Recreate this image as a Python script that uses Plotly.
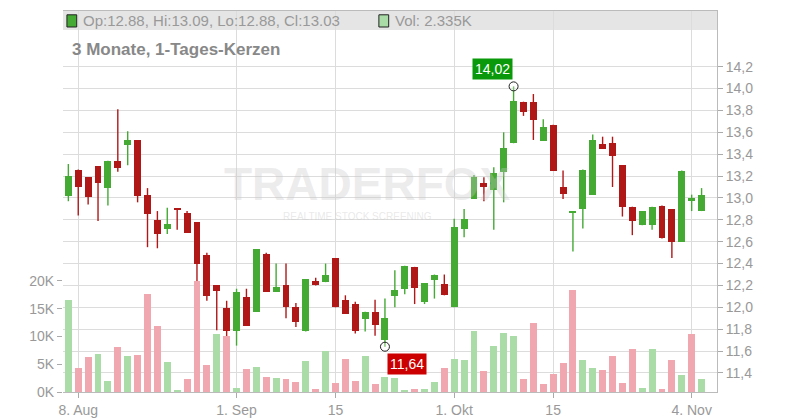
import plotly.graph_objects as go

# daily candles, 8 Aug .. 5 Nov (index = trading day)
opens = [13.02, 13.26, 13.19, 13.29, 13.09, 13.34, 13.48, 13.53, 13.03, 12.80,
         12.72, 12.90, 12.86, 12.78, 12.48, 12.20, 11.99, 11.78, 12.09, 11.96,
         12.49, 12.14, 12.20, 12.00, 11.78, 12.24, 12.23, 12.45, 12.07, 12.03,
         11.89, 11.96, 11.70, 12.10, 12.17, 12.37, 12.05, 12.25, 12.21, 12.00,
         12.72, 12.99, 13.14, 13.07, 13.24, 13.50, 13.88, 13.88, 13.52, 13.67,
         13.10, 12.87, 12.90, 13.03, 13.49, 13.50, 13.30, 12.92, 12.75, 12.75,
         12.93, 12.90, 12.60, 12.97, 12.88]
highs = [13.31, 13.26, 13.19, 13.29, 13.34, 13.81, 13.61, 13.53, 13.09, 12.88,
         12.91, 12.90, 12.88, 12.78, 12.50, 12.20, 12.06, 12.17, 12.17, 12.53,
         12.50, 12.40, 12.40, 12.04, 12.26, 12.27, 12.40, 12.45, 12.11, 12.05,
         11.96, 12.07, 12.08, 12.34, 12.38, 12.37, 12.22, 12.30, 12.30, 12.81,
         12.90, 13.21, 13.19, 13.28, 13.60, 14.02, 13.88, 13.95, 13.72, 13.67,
         13.25, 12.88, 13.26, 13.58, 13.56, 13.56, 13.30, 12.92, 12.88, 12.92,
         12.93, 12.90, 13.25, 13.03, 13.09]
lows = [12.97, 12.84, 12.94, 12.79, 12.93, 13.24, 13.30, 12.96, 12.55, 12.54,
        12.67, 12.71, 12.68, 12.10, 12.06, 11.79, 11.71, 11.65, 11.83, 11.96,
        12.14, 12.14, 11.90, 11.82, 11.78, 12.20, 12.23, 12.00, 11.94, 11.76,
        11.78, 11.74, 11.64, 12.00, 12.12, 12.03, 12.03, 12.08, 12.11, 12.00,
        12.64, 12.99, 12.97, 12.71, 12.96, 13.50, 13.75, 13.53, 13.52, 13.25,
        12.99, 12.51, 12.72, 13.03, 13.45, 13.10, 12.83, 12.66, 12.75, 12.71,
        12.63, 12.45, 12.60, 12.88, 12.88]
closes = [13.20, 13.10, 13.01, 13.14, 13.34, 13.27, 13.53, 13.02, 12.85, 12.67,
          12.76, 12.89, 12.68, 12.40, 12.10, 12.15, 11.78, 12.14, 11.83, 12.53,
          12.14, 12.19, 12.00, 11.87, 12.26, 12.20, 12.30, 12.00, 11.94, 11.78,
          11.96, 11.84, 11.90, 12.16, 12.38, 12.18, 12.22, 12.30, 12.11, 12.73,
          12.81, 13.19, 13.10, 13.23, 13.46, 13.89, 13.79, 13.71, 13.65, 13.25,
          13.04, 12.88, 13.26, 13.53, 13.45, 13.38, 12.92, 12.79, 12.88, 12.92,
          12.63, 12.60, 13.25, 13.00, 13.03]
volume_k = [16.5, 4.3, 6.3, 6.8, 2.0, 8.1, 6.5, 6.7, 17.7, 11.8,
            5.4, 0.4, 2.4, 19.9, 4.9, 10.4, 10.1, 0.8, 4.2, 4.5,
            2.7, 2.6, 2.4, 1.8, 5.6, 0.6, 7.4, 1.7, 6.0, 2.0,
            6.5, 1.5, 2.7, 2.6, 0.2, 0.6, 0.6, 1.8, 4.3, 6.0,
            5.8, 11.0, 3.7, 8.3, 10.7, 10.1, 2.3, 12.4, 1.4, 3.3,
            5.3, 18.3, 5.7, 4.4, 4.0, 6.5, 1.7, 7.8, 0.7, 7.8,
            0.5, 5.8, 3.0, 10.5, 2.4]
volume_up = [1, 0, 0, 1, 1, 0, 1, 0, 0, 0,
             1, 1, 0, 0, 0, 1, 0, 1, 0, 1,
             0, 1, 0, 0, 1, 0, 1, 0, 0, 0,
             1, 0, 1, 1, 1, 0, 1, 1, 0, 1,
             1, 1, 0, 1, 1, 1, 0, 0, 0, 0,
             0, 0, 1, 1, 0, 0, 0, 0, 1, 1,
             0, 0, 1, 0, 1]

date_tick_idx = [1, 17, 27, 39, 49, 63]
date_tick_text = ['8. Aug', '1. Sep', '15', '1. Okt', '15', '4. Nov']
price_ticks = [11.4, 11.6, 11.8, 12.0, 12.2, 12.4, 12.6, 12.8, 13.0, 13.2,
               13.4, 13.6, 13.8, 14.0, 14.2]
vol_ticks = [0, 5, 10, 15, 20]

GREEN = '#44aa33'
RED = '#b01818'
GRID = '#dcdcdc'
TXT = '#999999'
FONT = 'Liberation Sans'

idx = list(range(len(opens)))
up = [c >= o for o, c in zip(opens, closes)]
fig = go.Figure()

fig.add_trace(go.Bar(
    x=idx, y=volume_k, yaxis='y2', width=0.7,
    marker=dict(color=['#a9dca6' if u else '#f0a7b0' for u in volume_up], line_width=0),
    hoverinfo='skip', showlegend=False,
))

# wicks, one trace per colour
for colour, flag in ((GREEN, True), (RED, False)):
    wx, wy = [], []
    for i in idx:
        if up[i] == flag:
            wx += [i, i, None]
            wy += [lows[i], highs[i], None]
    fig.add_trace(go.Scatter(x=wx, y=wy, mode='lines', line=dict(color=colour, width=1.4),
                             hoverinfo='skip', showlegend=False))

# bodies
fig.add_trace(go.Bar(
    x=idx, base=[min(o, c) for o, c in zip(opens, closes)],
    y=[max(abs(c - o), 0.012) for o, c in zip(opens, closes)],
    width=0.7, marker=dict(color=[GREEN if u else RED for u in up], line_width=0),
    showlegend=False, hoverinfo='skip',
))

# extremes
hi_i = highs.index(max(highs))
lo_i = lows.index(min(lows))
fig.add_trace(go.Scatter(
    x=[hi_i, lo_i], y=[highs[hi_i], lows[lo_i]], mode='markers',
    marker=dict(size=9, color='rgba(255,255,255,0.3)', line=dict(color='#222', width=1)),
    showlegend=False, hoverinfo='skip',
))
fig.add_annotation(x=hi_i, y=highs[hi_i], text=f'{highs[hi_i]:.2f}'.replace('.', ','),
                   showarrow=False, xanchor='right', yanchor='bottom', xshift=-1, yshift=6,
                   bgcolor='#0a990a', font=dict(color='white', size=14, family=FONT),
                   borderpad=2)
fig.add_annotation(x=lo_i, y=lows[lo_i], text=f'{lows[lo_i]:.2f}'.replace('.', ','),
                   showarrow=False, xanchor='left', yanchor='top', xshift=2, yshift=-6,
                   bgcolor='#cc0000', font=dict(color='white', size=14, family=FONT),
                   borderpad=2)

# header bar and texts
fig.add_shape(type='rect', xref='paper', yref='paper', x0=0, x1=1, y0=0.950, y1=1,
              fillcolor='rgba(220,220,220,0.75)', line_width=0, layer='below')
fig.add_shape(type='rect', xref='paper', yref='paper', x0=0.006, x1=0.021, y0=0.958, y1=0.99,
              fillcolor=GREEN, line=dict(color='#222', width=1))
fig.add_shape(type='rect', xref='paper', yref='paper', x0=0.483, x1=0.498, y0=0.958, y1=0.99,
              fillcolor='#a9dca6', line=dict(color='#222', width=1))
fig.add_annotation(xref='paper', yref='paper', x=0.027, y=0.975, xanchor='left', yanchor='middle',
                   text='Op:12.88, Hi:13.09, Lo:12.88, Cl:13.03', showarrow=False,
                   font=dict(family='Liberation Sans Narrow, Liberation Sans', size=15, color='#999'))
fig.add_annotation(xref='paper', yref='paper', x=0.504, y=0.975, xanchor='left', yanchor='middle',
                   text='Vol: 2.335K', showarrow=False,
                   font=dict(family='Liberation Sans Narrow, Liberation Sans', size=15, color='#999'))
fig.add_annotation(xref='paper', yref='paper', x=0.011, y=0.9, xanchor='left', yanchor='middle',
                   text='<b>3 Monate, 1-Tages-Kerzen</b>', showarrow=False,
                   font=dict(family=FONT, size=17, color='#888'))
# watermark
fig.add_annotation(xref='paper', yref='paper', x=0.465, y=0.545, text='<b>TRADERFOX</b>', showarrow=False,
                   font=dict(family=FONT, size=46, color='rgba(200,200,200,0.35)'))
fig.add_annotation(xref='paper', yref='paper', x=0.45, y=0.46, text='REALTIME STOCK SCREENING',
                   showarrow=False, font=dict(family=FONT, size=10, color='rgba(200,200,200,0.4)'))

# the page adds an 8px body margin, so the figure is 8px smaller each way
fig.update_layout(
    width=792, height=412,
    margin=dict(l=55, r=83, t=3, b=28, autoexpand=False),
    paper_bgcolor='white', plot_bgcolor='white',
    bargap=0, barmode='overlay',
    xaxis=dict(range=[-0.54, 65.56], tickvals=date_tick_idx, ticktext=date_tick_text,
               showgrid=True, gridcolor=GRID, automargin=False,
               ticks='outside', ticklen=5, tickcolor='#aaa',
               showline=True, linecolor='#bbb', mirror=True,
               tickfont=dict(family=FONT, size=14, color=TXT), zeroline=False),
    yaxis=dict(side='right', range=[11.226, 14.709], tickvals=price_ticks,
               ticktext=[f'{p:.1f}'.replace('.', ',') for p in price_ticks],
               showgrid=True, gridcolor=GRID, ticks='outside', ticklen=5, tickcolor='#aaa',
               showline=True, linecolor='#bbb', automargin=False,
               tickfont=dict(family=FONT, size=14, color=TXT), zeroline=False),
    yaxis2=dict(overlaying='y', side='left', range=[0, 68.6], tickvals=vol_ticks,
                ticktext=[f'{v}K' for v in vol_ticks], showgrid=False, automargin=False,
                ticks='outside', ticklen=5, tickcolor='#aaa',
                tickfont=dict(family=FONT, size=14, color=TXT), zeroline=False),
)

fig.write_html('out.html')
